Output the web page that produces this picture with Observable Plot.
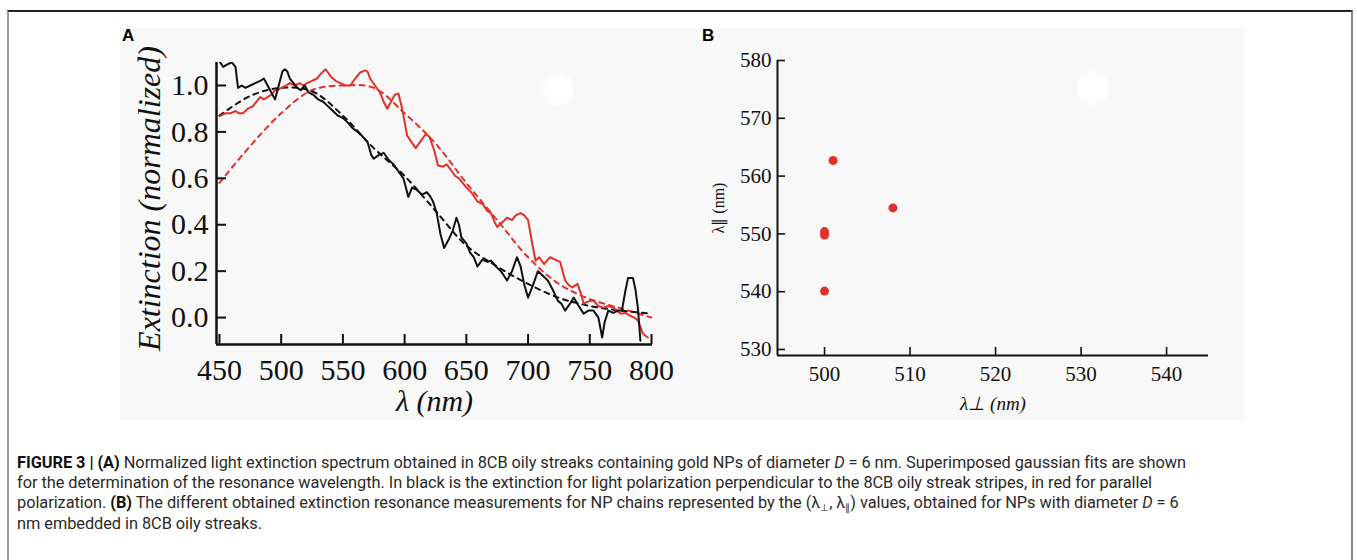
<!DOCTYPE html>
<html>
<head>
<meta charset="utf-8">
<script src="https://cdn.jsdelivr.net/npm/d3@7"></script>
<script src="https://cdn.jsdelivr.net/npm/@observablehq/plot@0.6"></script>
<style>
  html, body { margin: 0; padding: 0; background: #fff; }
  #root { position: relative; width: 1357px; height: 560px; overflow: hidden; }
  #frame { position: absolute; left: 7px; top: 10px; width: 1346px; height: 560px;
           border-top: 2px solid #222; border-left: 2px solid #999; border-right: 2px solid #888; box-sizing: border-box; }
  #panelbg { position: absolute; left: 120px; top: 28px; width: 1125px; height: 392px; background: #f8f8f8; }
  .blob { position: absolute; width: 32px; height: 32px; border-radius: 50%; background: #fff; filter: blur(2px); }
  .plab { position: absolute; font-family: "Liberation Sans", Arial, sans-serif; font-weight: bold; font-size: 17px; color: #000; }
  #plotA { position: absolute; left: 120px; top: 28px; }
  #plotB { position: absolute; left: 690px; top: 28px; }
  #caption { position: absolute; left: 17px; top: 453px; font-family: Roboto, "Liberation Sans", sans-serif;
             font-size: 16.35px; line-height: 20.2px; color: #2a2a2a; white-space: nowrap; letter-spacing: -0.05px; }
  #caption b { font-weight: bold; color: #111; }
  #caption sub { font-size: 10px; line-height: 0; vertical-align: -3px; }
</style>
</head>
<body>
<div id="root">
  <div id="frame"></div>
  <div id="panelbg"></div>
  <div class="blob" style="left:542px;top:74px"></div>
  <div class="blob" style="left:1077px;top:72px"></div>
  <div class="plab" style="left:122px;top:26px">A</div>
  <div class="plab" style="left:702px;top:26px">B</div>
  <div id="plotA"></div>
  <div id="plotB"></div>
  <div id="caption">
    <b>FIGURE 3 | (A)</b> Normalized light extinction spectrum obtained in 8CB oily streaks containing gold NPs of diameter <i>D</i> = 6 nm. Superimposed gaussian fits are shown<br>
    for the determination of the resonance wavelength. In black is the extinction for light polarization perpendicular to the 8CB oily streak stripes, in red for parallel<br>
    polarization. <b>(B)</b> The different obtained extinction resonance measurements for NP chains represented by the (λ<sub>⊥</sub>, λ<sub>∥</sub>) values, obtained for NPs with diameter <i>D</i> = 6<br>
    nm embedded in 8CB oily streaks.
  </div>
</div>
<script>
// ---------- Panel A data ----------
const perpWl = [450.5,453,456,460,463,465,468,471,475,479,483,486,489,492,495,498,501,503,505,507,510,513,516,519,522,526,530,534,538,542,546,550,554,558,562,566,570,573,575,579,583,587,591,595,599,601,603,606,610,614,618,621,623,626,629,632,636,639,642,644,646,650,653,656,659,663,667,670,674,678,683,687,691,694,697,700,704,708,712,716,720,724,727,730,734,737,741,745,749,753,757,760,762,765,769,773,776,779,781,785,787,789,791];
const perpExt = [1.10,1.08,1.09,1.10,1.08,0.99,1.00,0.99,1.00,1.01,1.02,1.03,1.00,0.97,0.94,1.00,1.06,1.07,1.06,1.03,1.01,0.99,0.98,1.00,0.97,0.96,0.94,0.93,0.91,0.89,0.87,0.86,0.84,0.815,0.80,0.78,0.755,0.70,0.685,0.70,0.71,0.68,0.66,0.63,0.60,0.56,0.52,0.56,0.55,0.53,0.54,0.52,0.50,0.45,0.36,0.30,0.34,0.375,0.43,0.40,0.345,0.32,0.28,0.26,0.22,0.25,0.24,0.245,0.22,0.20,0.16,0.20,0.26,0.22,0.14,0.086,0.14,0.20,0.18,0.16,0.12,0.073,0.06,0.03,0.06,0.086,0.05,0.017,0.03,0.03,0.00,-0.086,-0.02,0.03,0.02,0.03,0.03,0.12,0.17,0.17,0.12,0.04,-0.10];

const parWl = [451,455,459,463,466,469,473,477,480,483,486,489,492,495,497,500,504,507,511,515,518,521,525,529,532,536,540,544,548,552,556,560,564,568,570,572,576,580,583,586,589,592,595,598,602,605,609,613,617,620,624,627,631,634,637,641,644,647,650,654,659,663,667,670,673,675,679,683,687,690,694,697,700,703,706,709,713,716,718,722,726,730,733,736,740,743,745,749,753,757,761,765,769,772,775,779,782,786,789,791,793,797];
const parExt = [0.87,0.88,0.88,0.89,0.88,0.88,0.90,0.91,0.93,0.95,0.94,0.95,0.96,0.98,0.98,0.99,1.00,1.01,1.00,1.01,1.00,1.01,1.02,1.03,1.05,1.07,1.04,1.02,1.01,1.00,1.00,1.03,1.056,1.065,1.06,1.03,1.00,0.97,0.93,0.90,0.93,0.96,0.965,0.90,0.785,0.76,0.73,0.76,0.79,0.78,0.72,0.655,0.65,0.66,0.64,0.61,0.60,0.58,0.56,0.54,0.50,0.49,0.46,0.45,0.41,0.39,0.41,0.43,0.42,0.44,0.45,0.44,0.42,0.33,0.245,0.26,0.23,0.25,0.26,0.25,0.24,0.16,0.14,0.13,0.146,0.10,0.06,0.07,0.073,0.05,0.043,0.05,0.043,0.03,0.017,0.02,0.01,0.00,-0.013,-0.04,-0.07,-0.086];

const fitWl = [450,475,500,525,550,575,600,625,650,675,700,725,750,775,800];
const perpFit = [0.87,0.955,0.99,0.975,0.87,0.73,0.61,0.46,0.31,0.22,0.145,0.085,0.05,0.03,0.017];
const parFit = [0.58,0.74,0.88,0.98,1.0,0.99,0.88,0.75,0.58,0.42,0.26,0.145,0.08,0.04,0.0];

const xTicksA = [450,500,550,600,650,700,750,800];
const yTicksA = [0.0,0.2,0.4,0.6,0.8,1.0];

// ---------- Panel B data ----------
const lamPerp = [501, 508, 500, 500, 500];
const lamPar  = [562.7, 554.5, 550.4, 549.8, 540.1];
const xTicksB = [500,510,520,530,540];
const yTicksB = [530,540,550,560,570,580];

const RED = "#e2312a";
const zipA = (xs, ys) => xs.map((x, i) => ({x, y: ys[i]}));

// ---------- Panel A ----------
{
  const W = 570, H = 392, mL = 96, mR = 38, mT = 34, mB = 76;
  const pw = W - mL - mR, ph = H - mT - mB;
  const xd = [447.6, 800.8], yd = [-0.116, 1.099];
  const plot = Plot.plot({
    width: W, height: H, marginLeft: mL, marginRight: mR, marginTop: mT, marginBottom: mB,
    style: {background: "transparent", fontFamily: "'Liberation Serif', 'Times New Roman', serif", color: "#111", overflow: "visible"},
    x: {domain: xd, label: null},
    y: {domain: yd, label: null},
    marks: [
      Plot.line(zipA(fitWl, parFit), {x: "x", y: "y", stroke: RED, strokeWidth: 2, strokeDasharray: "5,5", curve: "catmull-rom", clip: true}),
      Plot.line(zipA(fitWl, perpFit), {x: "x", y: "y", stroke: "#111", strokeWidth: 2, strokeDasharray: "5,5", curve: "catmull-rom", clip: true}),
      Plot.line(zipA(parWl, parExt), {x: "x", y: "y", stroke: RED, strokeWidth: 2, clip: true}),
      Plot.line(zipA(perpWl, perpExt), {x: "x", y: "y", stroke: "#111", strokeWidth: 2, clip: true}),
      Plot.ruleX([xd[0]], {stroke: "#111", strokeWidth: 2.5}),
      Plot.ruleY([yd[0]], {stroke: "#111", strokeWidth: 2.5}),
      Plot.tickX(xTicksA, {x: d => d, stroke: "#111", strokeWidth: 2, insetTop: ph - 10}),
      Plot.tickY(yTicksA, {y: d => d, stroke: "#111", strokeWidth: 2, insetRight: pw - 10}),
      Plot.axisX(xTicksA, {tickSize: 0, tickPadding: 14, fontSize: 30, tickFormat: d => String(d), label: null}),
      Plot.axisY(yTicksA, {tickSize: 0, tickPadding: 8, fontSize: 30, tickFormat: d => d.toFixed(1), label: null}),
      Plot.text(["λ (nm)"], {frameAnchor: "bottom", dy: 57, fontSize: 30, fontStyle: "italic", textAnchor: "middle", lineAnchor: "middle", fill: "#111"}),
      Plot.text(["Extinction (normalized)"], {frameAnchor: "left", dx: -67, dy: -5, rotate: -90, fontSize: 32, fontStyle: "italic", textAnchor: "middle", lineAnchor: "middle", fill: "#111"})
    ]
  });
  document.getElementById("plotA").appendChild(plot);
}

// ---------- Panel B ----------
{
  const W = 555, H = 392, mL = 87, mR = 37, mT = 32, mB = 65;
  const pw = W - mL - mR, ph = H - mT - mB;
  const xd = [494.5, 544.9], yd = [528.96, 580];
  const plot = Plot.plot({
    width: W, height: H, marginLeft: mL, marginRight: mR, marginTop: mT, marginBottom: mB,
    style: {background: "transparent", fontFamily: "'Liberation Serif', 'Times New Roman', serif", color: "#111", overflow: "visible"},
    x: {domain: xd, label: null},
    y: {domain: yd, label: null},
    marks: [
      Plot.ruleX([xd[0]], {stroke: "#111", strokeWidth: 2}),
      Plot.ruleY([yd[0]], {stroke: "#111", strokeWidth: 2}),
      Plot.tickX(xTicksB, {x: d => d, stroke: "#111", strokeWidth: 1.6, insetTop: ph - 8}),
      Plot.tickY(yTicksB, {y: d => d, stroke: "#111", strokeWidth: 1.6, insetRight: pw - 8}),
      Plot.axisX(xTicksB, {tickSize: 0, tickPadding: 11, fontSize: 21, tickFormat: d => String(d), label: null}),
      Plot.axisY(yTicksB, {tickSize: 0, tickPadding: 6, fontSize: 21, tickFormat: d => String(d), label: null}),
      Plot.dot(lamPerp.map((x, i) => ({x, y: lamPar[i]})), {x: "x", y: "y", r: 4.5, fill: RED, stroke: "none"}),
      Plot.text(["λ⊥ (nm)"], {frameAnchor: "bottom", dy: 48, fontSize: 19, fontStyle: "italic", textAnchor: "middle", lineAnchor: "middle", fill: "#111"}),
      Plot.text(["λ∥ (nm)"], {frameAnchor: "left", dx: -59, rotate: -90, fontSize: 16, textAnchor: "middle", lineAnchor: "middle", fill: "#111"})
    ]
  });
  document.getElementById("plotB").appendChild(plot);
}
</script>
</body>
</html>
